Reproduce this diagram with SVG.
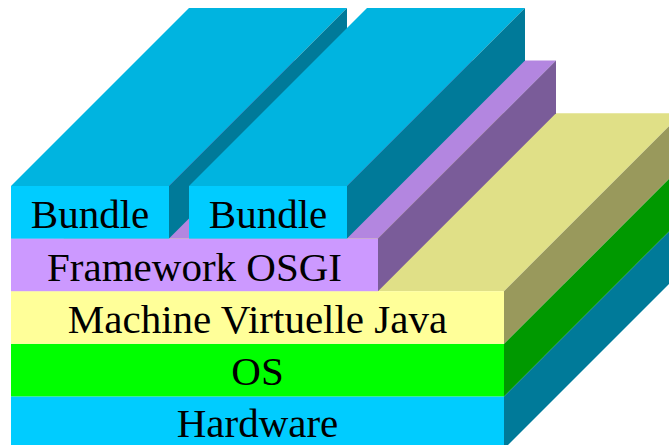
<svg xmlns="http://www.w3.org/2000/svg" width="669" height="445" viewBox="0 0 669 445">
  <style>
    .lbl { font-family: "Liberation Serif", "Times New Roman", Times, serif; font-size: 41px; fill: #000000; text-anchor: middle; }
    .cyanF { fill: #00CCFF; } .cyanT { fill: #00B4E0; } .cyanS { fill: #007A99; }
    .greenF { fill: #00FF00; } .greenS { fill: #009900; }
    .yelF { fill: #FFFF99; } .yelT { fill: #E0E087; } .yelS { fill: #99995C; }
    .purF { fill: #CC99FF; } .purT { fill: #B386E0; } .purS { fill: #7A5C99; }
  </style>
  <rect width="669" height="445" fill="#FFFFFF"/>
  <g id="hardware">
    <polygon class="cyanS" points="504,396.4 682,218.4 682,271 504,449"/>
    <rect class="cyanF" x="11" y="396.4" width="493" height="52.6"/>
    <text class="lbl" font-family="Liberation Serif, serif" x="257.5" y="437">Hardware</text>
  </g>
  <g id="os">
    <polygon class="greenS" points="504,343.8 682,165.8 682,218.4 504,396.4"/>
    <rect class="greenF" x="11" y="343.8" width="493" height="52.6"/>
    <text class="lbl" font-family="Liberation Serif, serif" x="257.5" y="385">OS</text>
  </g>
  <g id="jvm">
    <polygon class="yelT" points="11,291.2 189,113.2 682,113.2 504,291.2"/>
    <polygon class="yelS" points="504,291.2 682,113.2 682,165.8 504,343.8"/>
    <rect class="yelF" x="11" y="291.2" width="493" height="52.6"/>
    <text class="lbl" font-family="Liberation Serif, serif" x="257.5" y="333">Machine Virtuelle Java</text>
  </g>
  <g id="framework">
    <polygon class="purT" points="11,238.6 189,60.6 556,60.6 378,238.6"/>
    <polygon class="purS" points="378,238.6 556,60.6 556,113.2 378,291.2"/>
    <rect class="purF" x="11" y="238.6" width="367" height="52.6"/>
    <text class="lbl" font-family="Liberation Serif, serif" x="194.5" y="281">Framework OSGI</text>
  </g>
  <g id="bundle1">
    <polygon class="cyanT" points="11,186 189,8 347,8 169,186"/>
    <polygon class="cyanS" points="169,186 347,8 347,60.6 169,238.6"/>
    <rect class="cyanF" x="11" y="186" width="158" height="52.6"/>
    <text class="lbl" font-family="Liberation Serif, serif" x="90" y="228">Bundle</text>
  </g>
  <g id="bundle2">
    <polygon class="cyanT" points="189,186 367,8 525,8 347,186"/>
    <polygon class="cyanS" points="347,186 525,8 525,60.6 347,238.6"/>
    <rect class="cyanF" x="189" y="186" width="158" height="52.6"/>
    <text class="lbl" font-family="Liberation Serif, serif" x="268" y="228">Bundle</text>
  </g>
  <g id="connectors"/>
</svg>
